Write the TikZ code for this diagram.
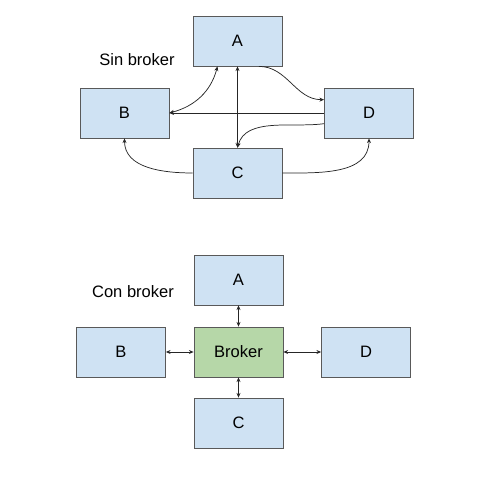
\documentclass[tikz,border=0pt]{standalone}
\usepackage{fontspec}
\setmainfont{Liberation Sans}
\usepackage{xcolor}
\usepackage{tikz}
\usetikzlibrary{arrows.meta}
\definecolor{boxblue}{HTML}{CFE2F3}
\definecolor{boxgreen}{HTML}{B6D7A8}
\definecolor{boxline}{HTML}{595959}

\begin{document}
\begin{tikzpicture}[x=0.75pt, y=-0.75pt, every node/.style={font=\fontsize{12.4}{15}\selectfont},
    >={Stealth[length=3.5pt,width=3pt]},
    box/.style={draw=boxline, fill=boxblue, line width=0.6pt, minimum width=66.75pt, minimum height=37.5pt, inner sep=0pt},
    link/.style={line width=0.55pt, black!85}]
   % Page size (always first!)
   \useasboundingbox (0,0) rectangle (482,481);

    % Without broker
    \node[box] (a1) at (237.5,41) {A};
    \node[box] (b1) at (124.5,113) {B};
    \node[box] (d1) at (369,113) {D};
    \node[box] (c1) at (237.5,173) {C};
    \node (sin) at (137,60) {Sin broker};

    \draw[<->, link] (b1.east) to[out=15, in=-105] ([xshift=-15pt]a1.south);
    \draw[->, link] ([xshift=16pt]a1.south) to[out=0, in=180] ([yshift=10pt]d1.west);
    \draw[->, link] (d1.west) -- (b1.east);
    \draw[<->, link] (a1.south) -- (c1.north);
    \draw[->, link] ([yshift=-8pt]d1.west) to[out=188, in=75, looseness=0.9] (c1.north);
    \draw[->, link] (c1.west) to[out=180, in=-90] (b1.south);
    \draw[->, link] (c1.east) to[out=0, in=-90] (d1.south);

    % With broker
    \node[box] (a2) at (238.5,280) {A};
    \node[box, fill=boxgreen] (broker) at (238.5,352) {Broker};
    \node[box] (b2) at (121,352) {B};
    \node[box] (d2) at (366,352) {D};
    \node[box] (c2) at (238.5,423) {C};
    \node (con) at (133,292) {Con broker};

    \draw[<->, link] (a2.south) -- (broker.north);
    \draw[<->, link] (b2.east) -- (broker.west);
    \draw[<->, link] (broker.east) -- (d2.west);
    \draw[<->, link] (broker.south) -- (c2.north);
\end{tikzpicture}
\end{document}
